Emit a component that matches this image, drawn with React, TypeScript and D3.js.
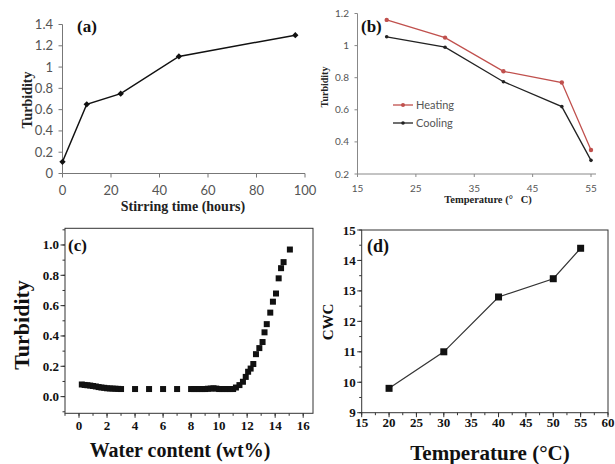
import React from "react";
import * as d3 from "d3";

// Panel (a)
const aTime = [0, 10, 24, 48, 96];
const aTurb = [0.11, 0.65, 0.75, 1.1, 1.3];
const aXTicks = [0, 20, 40, 60, 80, 100];
const aYTicks = [0, 0.2, 0.4, 0.6, 0.8, 1, 1.2, 1.4];

// Panel (b)
const bTemp = [20, 30, 40, 50, 55];
const bHeating = [1.16, 1.05, 0.84, 0.77, 0.35];
const bCooling = [1.055, 0.99, 0.775, 0.62, 0.285];
const bXTicks = [15, 25, 35, 45, 55];
const bYTicks = [0.2, 0.4, 0.6, 0.8, 1, 1.2];

// Panel (c)
const cWater = [0.2, 0.4, 0.6, 0.8, 1.0, 1.2, 1.4, 1.6, 1.8, 2.0, 2.2, 2.4, 2.6, 2.8, 3.0,
  4, 5, 6, 7, 8, 8.2, 8.4, 8.6, 8.8, 9.0, 9.2, 9.4, 9.6, 9.8, 10.0, 10.2, 10.4, 10.6, 10.8, 11.0,
  11.2, 11.45, 11.7, 11.9, 12.07, 12.25, 12.44, 12.63, 12.87, 13.1, 13.24, 13.4, 13.65, 13.84,
  14.06, 14.25, 14.42, 14.6, 15.05];
const cTurb = [0.08, 0.077, 0.075, 0.073, 0.07, 0.067, 0.063, 0.06, 0.058, 0.055, 0.054, 0.053, 0.052, 0.051, 0.05,
  0.05, 0.05, 0.05, 0.05, 0.05, 0.05, 0.05, 0.05, 0.05, 0.05, 0.052, 0.053, 0.055, 0.053, 0.05, 0.05, 0.05, 0.05, 0.05, 0.05,
  0.06, 0.076, 0.098, 0.13, 0.164, 0.185, 0.215, 0.28, 0.32, 0.36, 0.424, 0.478, 0.554, 0.626,
  0.68, 0.78, 0.847, 0.887, 0.97];
const cXTicks = [0, 2, 4, 6, 8, 10, 12, 14, 16];
const cYTicks = [0, 0.2, 0.4, 0.6, 0.8, 1.0];

// Panel (d)
const dTemp = [20, 30, 40, 50, 55];
const dCWC = [9.8, 11.0, 12.8, 13.4, 14.4];
const dXTicks = [15, 20, 25, 30, 35, 40, 45, 50, 55, 60];
const dYTicks = [9, 10, 11, 12, 13, 14, 15];

const SERIF = "'Liberation Serif', 'Times New Roman', serif";
const SANS = "Lato, 'Noto Sans', sans-serif";

function PanelA() {
  const x = d3.scaleLinear().domain([0, 100]).range([62.5, 305]);
  const y = d3.scaleLinear().domain([0, 1.4]).range([173.5, 24.5]);
  const line = d3.line<number>().x((_, i) => x(aTime[i])).y((d) => y(d));
  const axisColor = "#777";
  return (
    <g>
      <line x1={x(0)} x2={x(100)} y1={y(0)} y2={y(0)} stroke={axisColor} />
      <line x1={x(0)} x2={x(0)} y1={y(0)} y2={y(1.4)} stroke={axisColor} />
      {aXTicks.map((t) => (
        <g key={t}>
          <line x1={x(t)} x2={x(t)} y1={y(0)} y2={y(0) + 4} stroke={axisColor} />
          <text x={x(t)} y={195} textAnchor="middle" fontFamily={SANS} fontSize={13} fill="#555">{t}</text>
        </g>
      ))}
      {aYTicks.map((t) => (
        <g key={t}>
          <line x1={x(0) - 4} x2={x(0)} y1={y(t)} y2={y(t)} stroke={axisColor} />
          <text x={53} y={y(t) + 4.5} textAnchor="end" fontFamily={SANS} fontSize={13} fill="#555">{t}</text>
        </g>
      ))}
      <path d={line(aTurb) || ""} fill="none" stroke="#111" strokeWidth={1.5} />
      {aTurb.map((v, i) => (
        <path key={i} d={d3.symbol(d3.symbolSquare, 20)() || ""} transform={`translate(${x(aTime[i])},${y(v)}) rotate(45)`} fill="#111" />
      ))}
      <text x={77} y={32} fontFamily={SERIF} fontWeight="bold" fontSize={17} fill="#111">(a)</text>
      <text transform="translate(32,100) rotate(-90)" textAnchor="middle" fontFamily={SERIF} fontWeight="bold" fontSize={14} fill="#222">Turbidity</text>
      <text x={183} y={211} textAnchor="middle" fontFamily={SERIF} fontWeight="bold" fontSize={14} fill="#222">Stirring time (hours)</text>
    </g>
  );
}

function PanelB() {
  const x = d3.scaleLinear().domain([15, 55]).range([357.5, 591]);
  const y = d3.scaleLinear().domain([0.2, 1.2]).range([174, 13.5]);
  const xEnd = 596;
  const red = "#c0504d";
  const axisColor = "#888";
  const mk = (vals: number[]) => d3.line<number>().x((_, i) => x(bTemp[i])).y((d) => y(d))(vals) || "";
  return (
    <g>
      <line x1={x(15)} x2={xEnd} y1={y(0.2)} y2={y(0.2)} stroke={axisColor} />
      <line x1={x(15)} x2={x(15)} y1={y(0.2)} y2={y(1.2)} stroke={axisColor} />
      {bXTicks.map((t) => (
        <g key={t}>
          <line x1={x(t)} x2={x(t)} y1={y(0.2)} y2={y(0.2) + 3} stroke={axisColor} />
          <text x={x(t)} y={192} textAnchor="middle" fontFamily={SANS} fontSize={10} fill="#555">{t}</text>
        </g>
      ))}
      {bYTicks.map((t) => (
        <g key={t}>
          <line x1={x(15) - 3} x2={x(15)} y1={y(t)} y2={y(t)} stroke={axisColor} />
          <text x={349} y={y(t) + 3.5} textAnchor="end" fontFamily={SANS} fontSize={10} fill="#555">{t}</text>
        </g>
      ))}
      <path d={mk(bHeating)} fill="none" stroke={red} strokeWidth={1.3} />
      <path d={mk(bCooling)} fill="none" stroke="#222" strokeWidth={1.3} />
      {bHeating.map((v, i) => (
        <circle key={"h" + i} cx={x(bTemp[i])} cy={y(v)} r={2.2} fill={red} />
      ))}
      {bCooling.map((v, i) => (
        <circle key={"c" + i} cx={x(bTemp[i])} cy={y(v)} r={1.8} fill="#222" />
      ))}
      <line x1={393} x2={413} y1={105} y2={105} stroke={red} strokeWidth={1.3} />
      <circle cx={403} cy={105} r={2} fill={red} />
      <text x={416} y={109} fontFamily={SANS} fontSize={11} fill="#555">Heating</text>
      <line x1={393} x2={413} y1={123} y2={123} stroke="#222" strokeWidth={1.3} />
      <circle cx={403} cy={123} r={1.8} fill="#222" />
      <text x={416} y={127} fontFamily={SANS} fontSize={11} fill="#555">Cooling</text>
      <text x={361} y={32} fontFamily={SERIF} fontWeight="bold" fontSize={17} fill="#111">(b)</text>
      <text transform="translate(328,87) rotate(-90)" textAnchor="middle" fontFamily={SERIF} fontWeight="bold" fontSize={10} fill="#222">Turbidity</text>
      <text x={488} y={203} textAnchor="middle" fontFamily={SERIF} fontWeight="bold" fontSize={10.5} fill="#222" style={{ whiteSpace: "pre" }}>{"Temperature (°   C)"}</text>
    </g>
  );
}

function PanelC() {
  const x = d3.scaleLinear().domain([-1, 16.7]).range([65, 313]);
  const y = d3.scaleLinear().domain([-0.11, 1.11]).range([413.3, 228.3]);
  const [x0, x1] = x.range();
  const [y0, y1] = y.range();
  const minorX = d3.range(-1, 17, 1).filter((v) => v >= -1 && v <= 16.7);
  const minorY = d3.range(-0.1, 1.11, 0.1);
  return (
    <g>
      <rect x={x0} y={y1} width={x1 - x0} height={y0 - y1} fill="none" stroke="#333" strokeWidth={1} />
      {minorX.map((t) => (
        <line key={"mx" + t} x1={x(t)} x2={x(t)} y1={y0} y2={y0 + 2.5} stroke="#333" />
      ))}
      {minorY.map((t) => (
        <line key={"my" + t} x1={x0 - 2.5} x2={x0} y1={y(t)} y2={y(t)} stroke="#333" />
      ))}
      {cXTicks.map((t) => (
        <g key={t}>
          <line x1={x(t)} x2={x(t)} y1={y0} y2={y0 + 4.5} stroke="#333" />
          <text x={x(t)} y={430} textAnchor="middle" fontFamily={SERIF} fontWeight="bold" fontSize={13} fill="#111">{t}</text>
        </g>
      ))}
      {cYTicks.map((t) => (
        <g key={t}>
          <line x1={x0 - 4.5} x2={x0} y1={y(t)} y2={y(t)} stroke="#333" />
          <text x={x0 - 6} y={y(t) + 4.5} textAnchor="end" fontFamily={SERIF} fontWeight="bold" fontSize={13} fill="#111">{t.toFixed(1)}</text>
        </g>
      ))}
      {cTurb.map((v, i) => (
        <rect key={i} x={x(cWater[i]) - 3} y={y(v) - 3} width={6} height={6} fill="#111" />
      ))}
      <text x={68} y={251} fontFamily={SERIF} fontWeight="bold" fontSize={17} fill="#111">(c)</text>
      <text transform="translate(29,325) rotate(-90)" textAnchor="middle" fontFamily={SERIF} fontWeight="bold" fontSize={22} fill="#111">Turbidity</text>
      <text x={180} y={457} textAnchor="middle" fontFamily={SERIF} fontWeight="bold" fontSize={20} fill="#111">Water content (wt%)</text>
    </g>
  );
}

function PanelD() {
  const x = d3.scaleLinear().domain([15, 60]).range([361.7, 608]);
  const y = d3.scaleLinear().domain([9, 15]).range([412.7, 230]);
  const [x0, x1] = x.range();
  const [y0, y1] = y.range();
  const line = d3.line<number>().x((_, i) => x(dTemp[i])).y((d) => y(d));
  const minorX = d3.range(15, 60.1, 2.5);
  const minorY = d3.range(9, 15.01, 0.5);
  return (
    <g>
      <rect x={x0} y={y1} width={x1 - x0} height={y0 - y1} fill="none" stroke="#333" strokeWidth={1} />
      {minorX.map((t) => (
        <line key={"mx" + t} x1={x(t)} x2={x(t)} y1={y0} y2={y0 + 2.5} stroke="#333" />
      ))}
      {minorY.map((t) => (
        <line key={"my" + t} x1={x0 - 2.5} x2={x0} y1={y(t)} y2={y(t)} stroke="#333" />
      ))}
      {dXTicks.map((t) => (
        <g key={t}>
          <line x1={x(t)} x2={x(t)} y1={y0} y2={y0 + 4.5} stroke="#333" />
          <text x={x(t)} y={427} textAnchor="middle" fontFamily={SERIF} fontWeight="bold" fontSize={13} fill="#111">{t}</text>
        </g>
      ))}
      {dYTicks.map((t) => (
        <g key={t}>
          <line x1={x0 - 4.5} x2={x0} y1={y(t)} y2={y(t)} stroke="#333" />
          <text x={x0 - 6} y={y(t) + 4.5} textAnchor="end" fontFamily={SERIF} fontWeight="bold" fontSize={13} fill="#111">{t}</text>
        </g>
      ))}
      <path d={line(dCWC) || ""} fill="none" stroke="#333" strokeWidth={1.2} />
      {dCWC.map((v, i) => (
        <rect key={i} x={x(dTemp[i]) - 3.5} y={y(v) - 3.5} width={7} height={7} fill="#111" />
      ))}
      <text x={367} y={252} fontFamily={SERIF} fontWeight="bold" fontSize={18} fill="#111">(d)</text>
      <text transform="translate(333,322) rotate(-90)" textAnchor="middle" fontFamily={SERIF} fontWeight="bold" fontSize={15} fill="#111">CWC</text>
      <text x={490} y={460} textAnchor="middle" fontFamily={SERIF} fontWeight="bold" fontSize={21} fill="#111">Temperature (°C)</text>
    </g>
  );
}

export default function App() {
  return (
    <svg width={615} height={464} style={{ position: "absolute", left: 0, top: 0, background: "#fff" }}>
      <rect width={615} height={464} fill="#fff" />
      <PanelA />
      <PanelB />
      <PanelC />
      <PanelD />
    </svg>
  );
}
